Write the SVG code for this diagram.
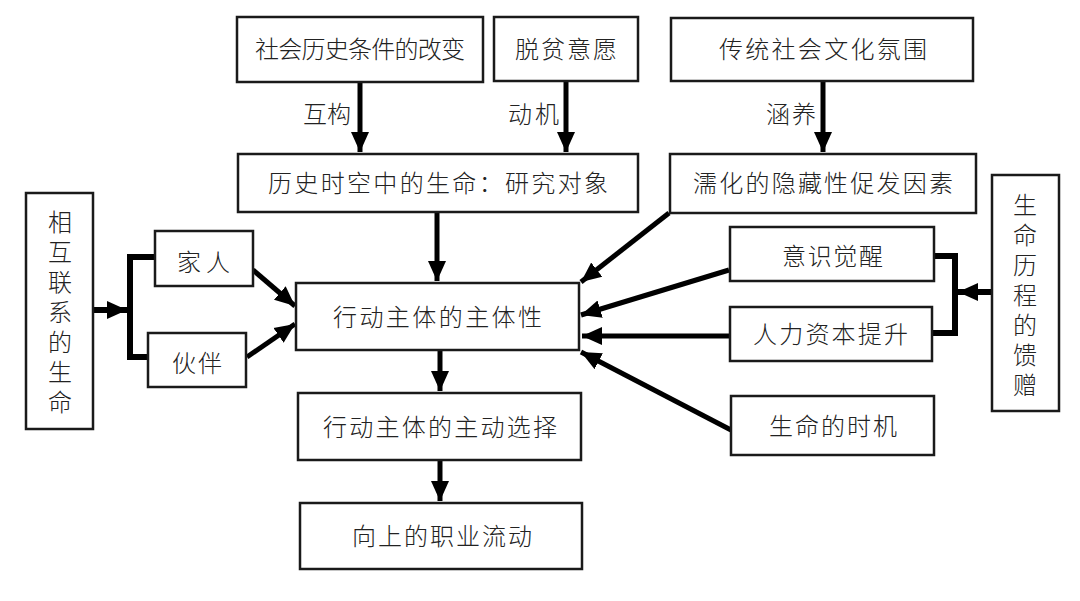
<svg xmlns="http://www.w3.org/2000/svg" width="1080" height="601" viewBox="0 0 1080 601">
<style>
.box{fill:#fff;stroke:#1a1a1a;stroke-width:2.5}
.t{font-family:"Noto Sans CJK SC","Noto Sans CJK JP",sans-serif;font-size:24px;fill:#222;font-weight:300}
.v{font-family:"Noto Sans CJK SC","Noto Sans CJK JP",sans-serif;font-size:24px;fill:#222;font-weight:300;writing-mode:vertical-rl;text-orientation:upright}
.c{stroke:#000;stroke-width:5;fill:none}
.b{stroke:#000;stroke-width:6;fill:none}
</style>
<defs>
<marker id="ah" markerUnits="userSpaceOnUse" markerWidth="22" markerHeight="20" refX="20" refY="10" orient="auto">
<path d="M0,1 L20,10 L0,19 Z" fill="#000"/>
</marker>
</defs>
<rect width="1080" height="601" fill="#fff"/>
<g id="connectors">
<line class="c" x1="360" y1="83" x2="360" y2="152" marker-end="url(#ah)"/>
<line class="c" x1="566" y1="81" x2="566" y2="152" marker-end="url(#ah)"/>
<line class="c" x1="823" y1="81" x2="823" y2="152" marker-end="url(#ah)"/>
<line class="c" x1="437" y1="212" x2="437" y2="281" marker-end="url(#ah)"/>
<line class="c" x1="669" y1="213" x2="581" y2="282" marker-end="url(#ah)"/>
<line class="c" x1="729" y1="270" x2="581" y2="315" marker-end="url(#ah)"/>
<line class="c" x1="730" y1="336" x2="582" y2="336" marker-end="url(#ah)"/>
<line class="c" x1="731" y1="430" x2="581" y2="352" marker-end="url(#ah)"/>
<line class="c" x1="253" y1="270" x2="295" y2="306" marker-end="url(#ah)"/>
<line class="c" x1="247" y1="357" x2="295" y2="324" marker-end="url(#ah)"/>
<line class="c" x1="440" y1="351" x2="440" y2="391" marker-end="url(#ah)"/>
<line class="c" x1="440" y1="461" x2="440" y2="501" marker-end="url(#ah)"/>
<polyline class="b" points="155,257 130,257 130,357 148,357"/>
<line class="b" x1="93" y1="310" x2="127" y2="310" marker-end="url(#ah)"/>
<polyline class="b" points="934,256 955,256 955,333 932,333"/>
<line class="b" x1="992" y1="292" x2="958" y2="292" marker-end="url(#ah)"/>
</g>
<g id="n1"><rect class="box" x="237" y="17" width="246" height="65"/><text class="t" x="255" y="58" textLength="210" lengthAdjust="spacing">社会历史条件的改变</text></g>
<g id="n2"><rect class="box" x="494" y="17" width="144" height="64"/><text class="t" x="515" y="58" textLength="102" lengthAdjust="spacing">脱贫意愿</text></g>
<g id="n3"><rect class="box" x="671" y="18" width="302" height="63"/><text class="t" x="719" y="58" textLength="208" lengthAdjust="spacing">传统社会文化氛围</text></g>
<g id="l1"><text class="t" x="303" y="123" textLength="48" lengthAdjust="spacing">互构</text></g>
<g id="l2"><text class="t" x="508" y="123" textLength="51" lengthAdjust="spacing">动机</text></g>
<g id="l3"><text class="t" x="766" y="123" textLength="50" lengthAdjust="spacing">涵养</text></g>
<g id="n4"><rect class="box" x="238" y="154" width="400" height="58"/><text class="t" x="268" y="192" textLength="340" lengthAdjust="spacing">历史时空中的生命：研究对象</text></g>
<g id="n5"><rect class="box" x="670" y="154" width="306" height="59"/><text class="t" x="693" y="192" textLength="260" lengthAdjust="spacing">濡化的隐藏性促发因素</text></g>
<g id="n6"><rect class="box" x="26" y="193" width="67" height="236"/>
<text class="v" x="60" y="210" letter-spacing="6">相互联系的生命</text></g>
<g id="n7"><rect class="box" x="155" y="231" width="98" height="55"/><text class="t" x="177" y="271" textLength="53" lengthAdjust="spacing">家人</text></g>
<g id="n8"><rect class="box" x="148" y="333" width="98" height="54"/><text class="t" x="172" y="372" textLength="50" lengthAdjust="spacing">伙伴</text></g>
<g id="n9"><rect class="box" x="296" y="283" width="283" height="67"/><text class="t" x="333" y="326" textLength="209" lengthAdjust="spacing">行动主体的主体性</text></g>
<g id="n10"><rect class="box" x="298" y="393" width="283" height="67"/><text class="t" x="323" y="436" textLength="234" lengthAdjust="spacing">行动主体的主动选择</text></g>
<g id="n11"><rect class="box" x="300" y="503" width="282" height="66"/><text class="t" x="352" y="545" textLength="180" lengthAdjust="spacing">向上的职业流动</text></g>
<g id="n12"><rect class="box" x="730" y="227" width="204" height="54"/><text class="t" x="782" y="265" textLength="101" lengthAdjust="spacing">意识觉醒</text></g>
<g id="n13"><rect class="box" x="730" y="307" width="202" height="54"/><text class="t" x="753" y="343" textLength="155" lengthAdjust="spacing">人力资本提升</text></g>
<g id="n14"><rect class="box" x="731" y="396" width="203" height="59"/><text class="t" x="769" y="435" textLength="128" lengthAdjust="spacing">生命的时机</text></g>
<g id="n15"><rect class="box" x="992" y="175" width="67" height="236"/>
<text class="v" x="1025" y="193" letter-spacing="6">生命历程的馈赠</text></g>
</svg>
